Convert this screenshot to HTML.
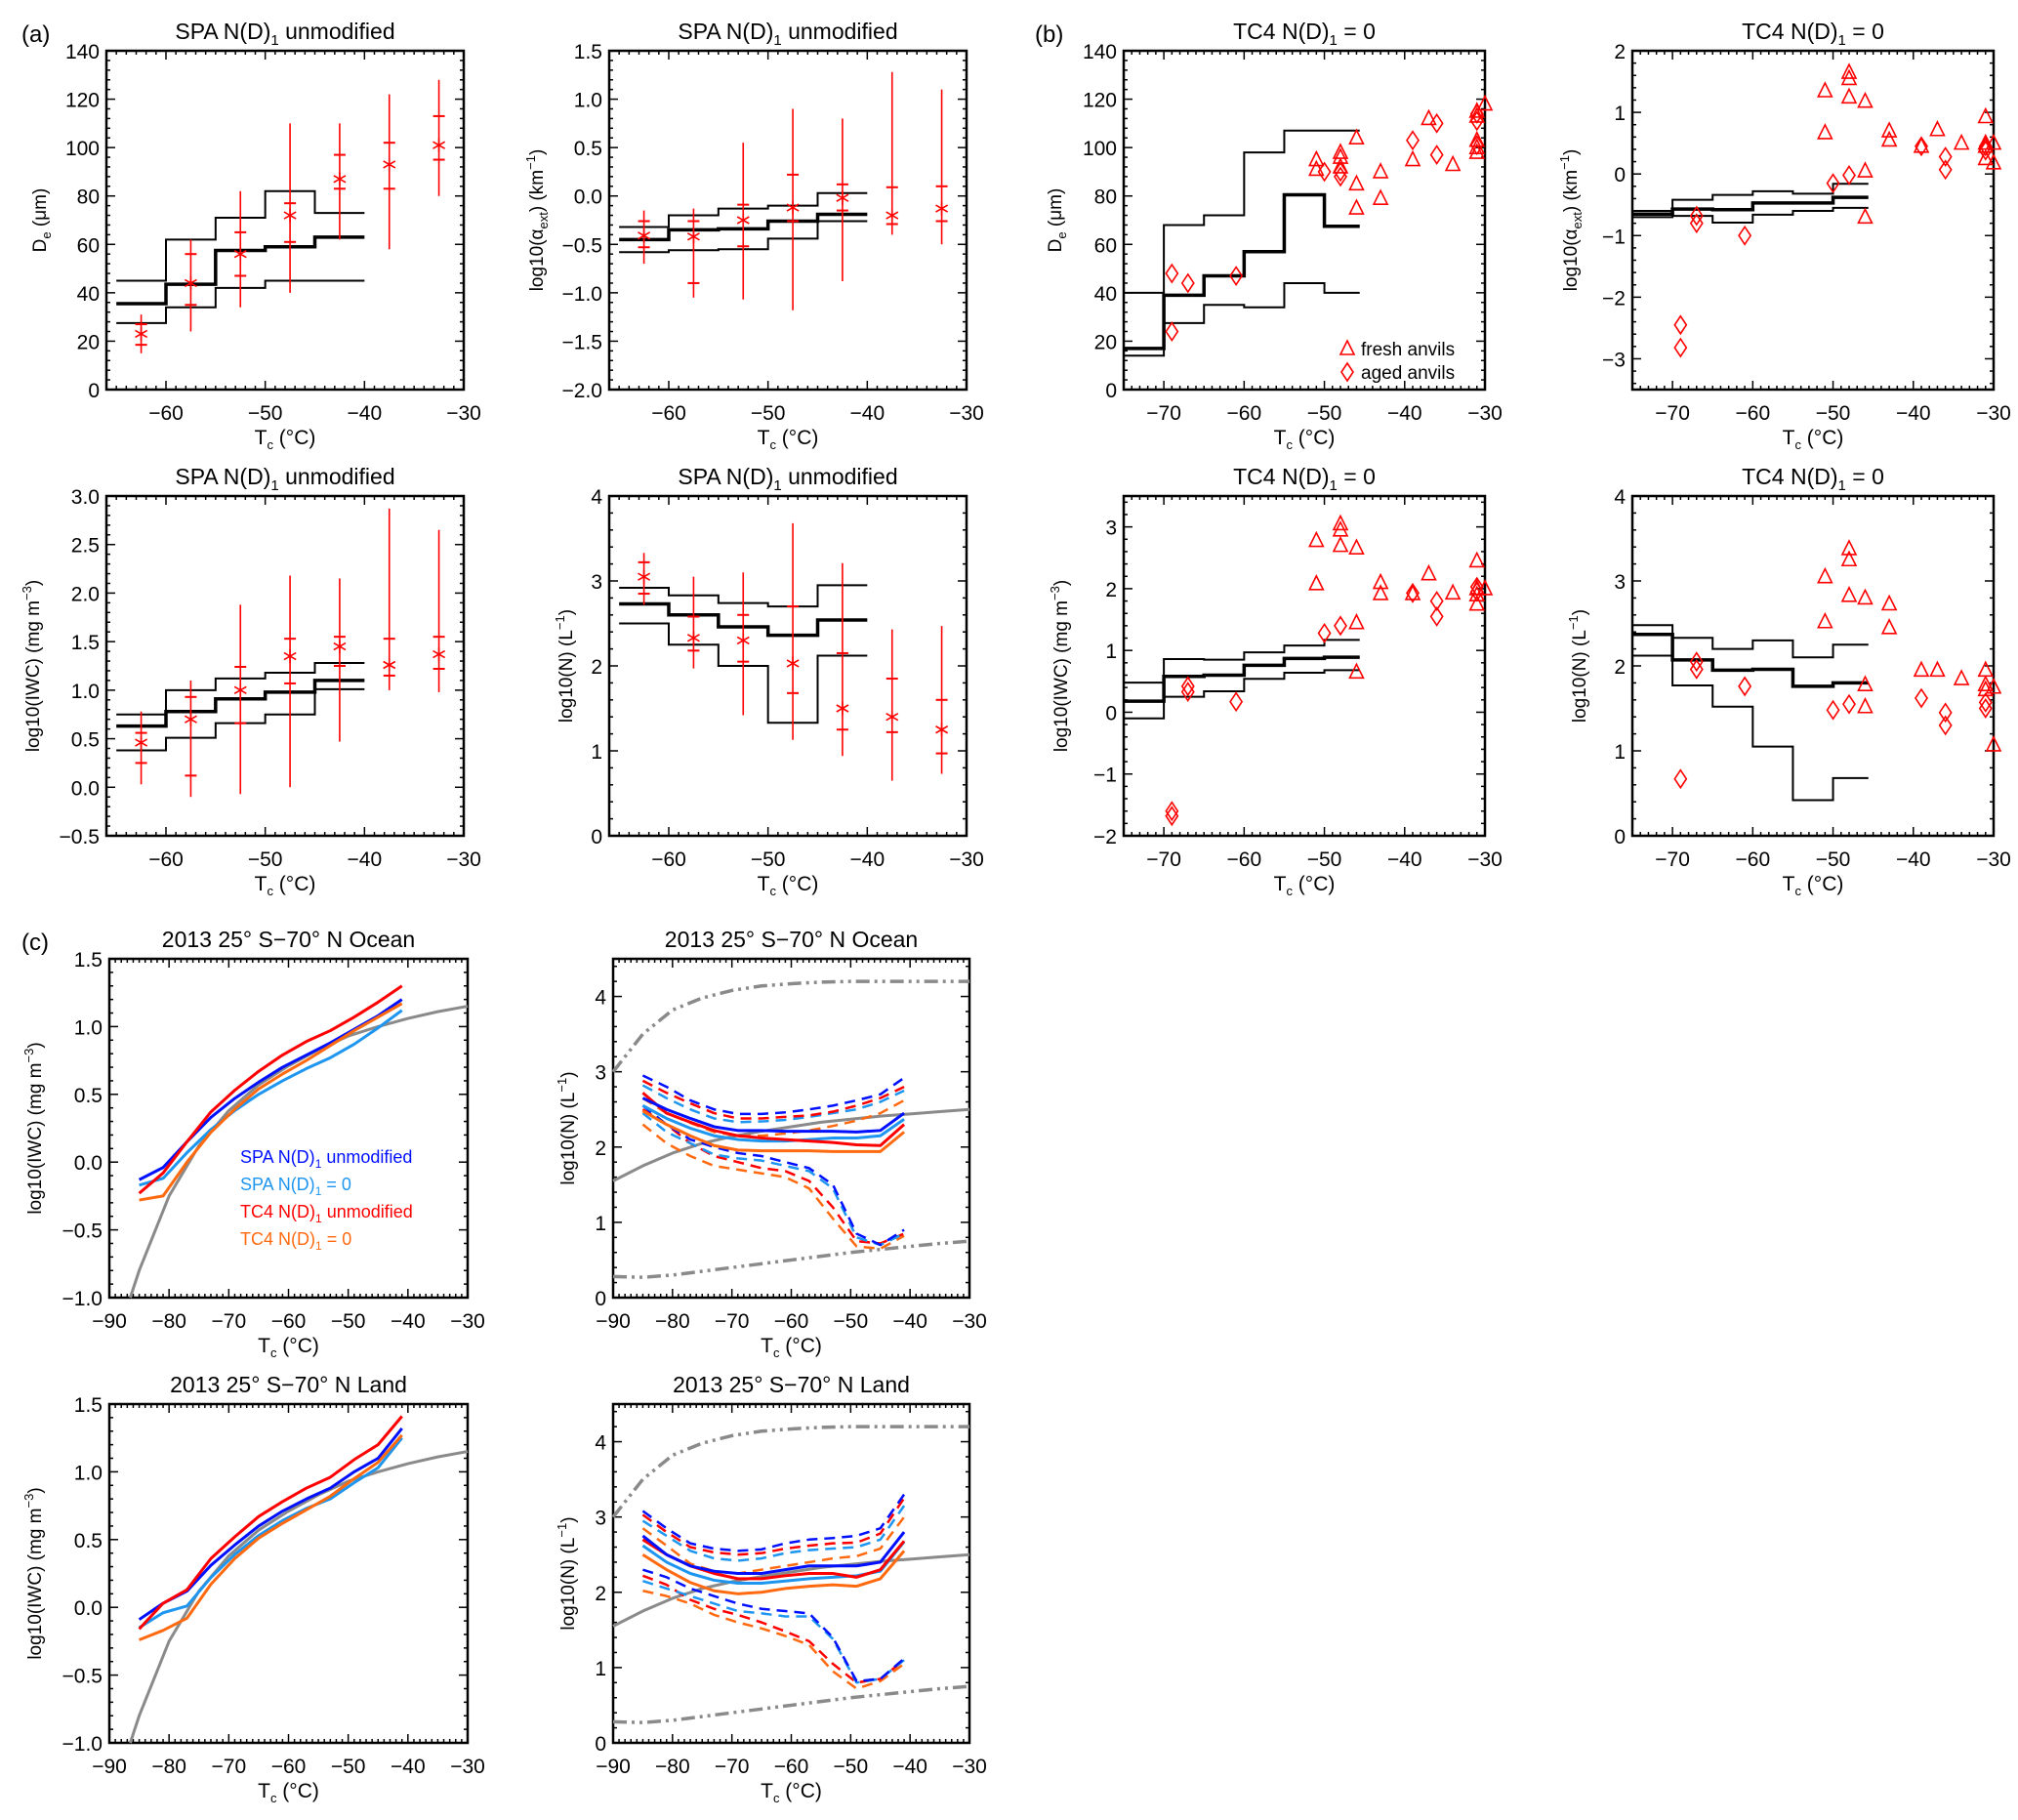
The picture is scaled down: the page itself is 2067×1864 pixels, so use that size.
<!DOCTYPE html>
<html><head><meta charset="utf-8"><title>Ice cloud panels</title>
<style>
html,body{margin:0;padding:0;background:#fff;}
svg{display:block;font-family:"Liberation Sans",sans-serif;}
</style></head>
<body>
<svg id="fig" width="2067" height="1864" viewBox="0 0 2067 1864" xmlns="http://www.w3.org/2000/svg">
<rect x="0" y="0" width="2067" height="1864" fill="#fff"/>
<text x="22" y="43" font-size="24">(a)</text>
<text x="1060" y="43" font-size="24">(b)</text>
<text x="22" y="973" font-size="24">(c)</text>
</svg>
<script>
// ---------- data: panel (a) SPA ----------
const binEdgesA = [-65,-60,-55,-50,-45,-40];
const a1Upper = [45,62,71,82,73];
const a1Median = [35.5,43.5,57.5,59,63];
const a1Lower = [27.5,34,42,45,45];
const obsTempA = [-62.5,-57.5,-52.5,-47.5,-42.5,-37.5,-32.5];
const a1Obs = [23,44,56,72,87,93,101];
const a1Min = [15,24,34,40,62,58,80];
const a1Max = [31,62,82,110,110,122,128];
const a1P25 = [18.5,35,47,61,83,83,95];
const a1P75 = [27,56,65,77,97,102,113];

const a2Upper = [-0.32,-0.2,-0.13,-0.1,0.03];
const a2Median = [-0.45,-0.35,-0.34,-0.26,-0.19];
const a2Lower = [-0.58,-0.56,-0.55,-0.44,-0.26];
const a2Obs = [-0.41,-0.42,-0.25,-0.12,-0.02,-0.2,-0.13];
const a2Min = [-0.7,-1.05,-1.07,-1.18,-0.88,-0.4,-0.5];
const a2Max = [-0.15,-0.13,0.55,0.9,0.8,1.28,1.1];
const a2P25 = [-0.53,-0.9,-0.52,-0.26,-0.15,-0.29,-0.26];
const a2P75 = [-0.26,-0.26,-0.09,0.22,0.12,0.09,0.1];

const a3Upper = [0.75,1.0,1.12,1.18,1.28];
const a3Median = [0.63,0.78,0.91,0.98,1.1];
const a3Lower = [0.38,0.51,0.66,0.75,1.01];
const a3Obs = [0.46,0.7,1.0,1.35,1.45,1.26,1.37];
const a3Min = [0.03,-0.1,-0.07,0,0.47,1.0,0.98];
const a3Max = [0.78,1.1,1.88,2.18,2.15,2.87,2.65];
const a3P25 = [0.25,0.12,0.66,1.07,1.25,1.15,1.22];
const a3P75 = [0.56,0.93,1.24,1.53,1.55,1.53,1.55];

const a4Upper = [2.92,2.83,2.74,2.7,2.95];
const a4Median = [2.73,2.6,2.46,2.36,2.54];
const a4Lower = [2.5,2.25,2.0,1.33,2.12];
const a4Obs = [3.05,2.33,2.3,2.03,1.5,1.4,1.25];
const a4Min = [2.72,1.97,1.42,1.13,0.94,0.65,0.73];
const a4Max = [3.33,3.05,3.1,3.68,3.21,2.43,2.47];
const a4P25 = [2.85,2.18,2.05,1.68,1.25,1.22,0.97];
const a4P75 = [3.22,2.58,2.6,2.7,2.15,1.85,1.6];

// ---------- data: panel (b) TC4 ----------
const binEdgesB = [-75,-70,-65,-60,-55,-50,-45.6];
const b1Upper = [40,68,72,98,107,107];
const b1Median = [17,39,47,57,80.5,67.5];
const b1Lower = [14,27.5,35,34,44,40];
const b1FreshT = [-51,-51,-48,-48,-48,-46,-46,-46,-43,-43,-39,-37,-34,-31,-31,-31,-31,-31,-30];
const b1FreshV = [95,91,98,96,92,104,85,75,90,79,95,112,93,115,113,103,100,98,118];
const b1AgedT = [-69,-69,-67,-61,-50,-48,-48,-39,-36,-36,-31,-31,-31];
const b1AgedV = [48,24,44,47,90,90,88,103,110,97,111,114,101];

const b2Upper = [-0.6,-0.42,-0.34,-0.28,-0.32,-0.16];
const b2Median = [-0.65,-0.57,-0.58,-0.47,-0.47,-0.38];
const b2Lower = [-0.7,-0.68,-0.79,-0.66,-0.6,-0.55];
const b2FreshT = [-51,-51,-48,-48,-48,-46,-46,-46,-43,-43,-39,-37,-34,-31,-31,-31,-31,-30,-30];
const b2FreshV = [1.35,0.67,1.65,1.55,1.25,1.18,0.05,-0.7,0.7,0.55,0.45,0.72,0.5,0.93,0.5,0.45,0.25,0.5,0.18];
const b2AgedT = [-69,-69,-67,-67,-61,-50,-48,-39,-36,-36,-31,-31];
const b2AgedV = [-2.45,-2.82,-0.68,-0.8,-1.0,-0.15,-0.02,0.45,0.28,0.07,0.45,0.38];

const b3Upper = [0.48,0.86,0.85,0.97,1.08,1.17];
const b3Median = [0.18,0.58,0.6,0.76,0.87,0.89];
const b3Lower = [-0.1,0.25,0.34,0.54,0.64,0.68];
const b3FreshT = [-51,-51,-48,-48,-48,-46,-46,-46,-43,-43,-39,-37,-34,-31,-31,-31,-31,-30];
const b3FreshV = [2.78,2.08,3.05,2.95,2.7,2.66,1.45,0.65,2.1,1.92,1.92,2.24,1.93,2.45,2.0,1.9,1.75,2.0];
const b3AgedT = [-69,-69,-67,-67,-61,-50,-48,-39,-36,-36,-31,-31];
const b3AgedV = [-1.6,-1.68,0.42,0.33,0.17,1.28,1.4,1.93,1.8,1.55,2.03,1.95];

const b4Upper = [2.48,2.33,2.2,2.3,2.1,2.25];
const b4Median = [2.37,2.07,1.95,1.96,1.76,1.8];
const b4Lower = [2.12,1.77,1.52,1.05,0.42,0.68];
const b4FreshT = [-51,-51,-48,-48,-48,-46,-46,-46,-43,-43,-39,-37,-34,-31,-31,-31,-30,-30];
const b4FreshV = [3.05,2.52,3.38,3.25,2.83,2.8,1.78,1.52,2.73,2.45,1.95,1.95,1.85,1.95,1.78,1.72,1.75,1.07];
const b4AgedT = [-69,-67,-67,-61,-50,-48,-39,-36,-36,-31,-31];
const b4AgedV = [0.67,2.05,1.96,1.76,1.48,1.55,1.62,1.45,1.3,1.57,1.5];

// ---------- data: panel (c) 2013 model ----------
const modelTemps = [-85,-81,-77,-73,-69,-65,-61,-57,-53,-49,-45,-41];
const refTempIwc = [-86.5,-85,-80,-75,-70,-65,-60,-55,-50,-45,-40,-35,-30];
const refIwc = [-1,-0.8,-0.25,0.12,0.38,0.57,0.71,0.83,0.93,1.0,1.06,1.11,1.15];
const refTempN = [-90,-85,-80,-75,-70,-65,-60,-55,-50,-45,-40,-35,-30];
const refNMid = [1.55,1.75,1.92,2.05,2.14,2.21,2.27,2.33,2.37,2.41,2.44,2.47,2.5];
const refNHigh = [3.0,3.5,3.82,3.98,4.08,4.14,4.17,4.19,4.2,4.2,4.2,4.2,4.2];
const refNLow = [0.28,0.27,0.3,0.35,0.4,0.45,0.5,0.55,0.6,0.64,0.68,0.72,0.75];

const oceanIwcSpa = [-0.13,-0.04,0.15,0.33,0.47,0.59,0.7,0.79,0.88,0.98,1.08,1.2];
const oceanIwcSpa0 = [-0.17,-0.12,0.07,0.24,0.38,0.5,0.6,0.69,0.77,0.87,0.99,1.12];
const oceanIwcTc4 = [-0.23,-0.08,0.15,0.37,0.53,0.67,0.79,0.89,0.97,1.07,1.18,1.3];
const oceanIwcTc40 = [-0.28,-0.25,0.0,0.22,0.39,0.54,0.65,0.75,0.86,0.97,1.07,1.17];

const oceanNSpa = [2.65,2.5,2.38,2.27,2.22,2.22,2.21,2.21,2.21,2.2,2.22,2.45];
const oceanNSpa0 = [2.55,2.38,2.25,2.15,2.1,2.08,2.08,2.1,2.12,2.12,2.15,2.37];
const oceanNTc4 = [2.72,2.45,2.33,2.22,2.15,2.12,2.1,2.08,2.06,2.03,2.02,2.3];
const oceanNTc40 = [2.48,2.3,2.15,2.02,1.96,1.95,1.95,1.95,1.94,1.94,1.94,2.2];
const oceanNSpaHi = [2.95,2.8,2.62,2.5,2.44,2.44,2.46,2.5,2.55,2.62,2.7,2.92];
const oceanNTc4Hi = [2.88,2.72,2.58,2.45,2.38,2.38,2.4,2.42,2.47,2.55,2.65,2.8];
const oceanNSpa0Hi = [2.82,2.65,2.5,2.38,2.33,2.34,2.36,2.4,2.45,2.5,2.6,2.75];
const oceanNTc40Hi = [2.65,2.45,2.32,2.2,2.15,2.15,2.18,2.22,2.28,2.35,2.45,2.62];
const oceanNSpaLo = [2.55,2.3,2.1,2.0,1.92,1.88,1.8,1.72,1.5,0.85,0.7,0.9];
const oceanNSpa0Lo = [2.45,2.2,2.05,1.9,1.85,1.82,1.75,1.68,1.45,0.8,0.7,0.85];
const oceanNTc4Lo = [2.5,2.3,2.05,1.88,1.8,1.72,1.68,1.55,1.2,0.75,0.72,0.85];
const oceanNTc40Lo = [2.3,2.05,1.88,1.75,1.7,1.65,1.6,1.45,1.05,0.68,0.65,0.82];

const landIwcSpa = [-0.09,0.03,0.12,0.31,0.46,0.6,0.71,0.8,0.88,1.0,1.1,1.32];
const landIwcSpa0 = [-0.15,-0.04,0.01,0.22,0.39,0.53,0.64,0.73,0.8,0.92,1.03,1.25];
const landIwcTc4 = [-0.16,0.03,0.13,0.36,0.52,0.67,0.78,0.88,0.96,1.09,1.2,1.41];
const landIwcTc40 = [-0.24,-0.17,-0.08,0.17,0.36,0.51,0.62,0.72,0.82,0.95,1.07,1.27];

const landNSpa = [2.75,2.5,2.35,2.28,2.25,2.25,2.3,2.35,2.35,2.35,2.4,2.8];
const landNSpa0 = [2.62,2.4,2.25,2.16,2.12,2.12,2.15,2.18,2.2,2.22,2.28,2.67];
const landNTc4 = [2.7,2.5,2.35,2.25,2.18,2.18,2.22,2.25,2.25,2.2,2.3,2.68];
const landNTc40 = [2.5,2.3,2.13,2.02,1.98,2.0,2.05,2.08,2.1,2.08,2.18,2.55];
const landNSpaHi = [3.08,2.85,2.65,2.58,2.55,2.57,2.65,2.7,2.72,2.75,2.85,3.3];
const landNTc4Hi = [3.03,2.8,2.6,2.53,2.5,2.52,2.58,2.62,2.65,2.66,2.78,3.25];
const landNSpa0Hi = [2.95,2.75,2.55,2.45,2.42,2.45,2.52,2.56,2.58,2.6,2.7,3.15];
const landNTc40Hi = [2.85,2.62,2.38,2.28,2.25,2.3,2.35,2.4,2.45,2.48,2.58,3.0];
const landNSpaLo = [2.3,2.2,2.05,1.95,1.85,1.78,1.75,1.72,1.4,0.82,0.85,1.12];
const landNSpa0Lo = [2.15,2.05,1.95,1.85,1.75,1.72,1.68,1.68,1.38,0.8,0.85,1.1];
const landNTc4Lo = [2.22,2.1,1.9,1.78,1.7,1.6,1.48,1.35,1.05,0.8,0.85,1.1];
const landNTc40Lo = [2.02,1.95,1.85,1.7,1.6,1.52,1.42,1.3,0.95,0.72,0.82,1.05];

const xTicksA = [-60,-50,-40,-30];
const xTicksB = [-70,-60,-50,-40,-30];
const xTicksC = [-90,-80,-70,-60,-50,-40,-30];

// ---------- drawing ----------
const NS = "http://www.w3.org/2000/svg";
const svg = document.getElementById("fig");
const C_BLUE = "#0010ff", C_LBLUE = "#1e96f0", C_RED = "#ff0000", C_ORANGE = "#ff6a10", C_GRAY = "#8a8a8a";

function mk(tag, attrs, parent) {
  const e = document.createElementNS(NS, tag);
  for (const k in attrs) e.setAttribute(k, attrs[k]);
  (parent || svg).appendChild(e);
  return e;
}
function fmtNum(v, dec) {
  const s = Math.abs(v).toFixed(dec);
  return (v < -1e-9 ? "\u2212" : "") + s;
}

function makeAxes(p) {
  const g = mk("g", {});
  
  
  const sx = x => p.L + (x - p.xmin) / (p.xmax - p.xmin) * (p.R - p.L);
  const sy = y => p.B - (y - p.ymin) / (p.ymax - p.ymin) * (p.B - p.T);
  const t = mk("text", {x: (p.L + p.R) / 2, y: p.T - 12, "font-size": 23, "text-anchor": "middle"}, g);
  
  
  t.appendChild(document.createTextNode(p.titleA));
  const sub = mk("tspan", {"font-size": 15, dy: 6}, t); sub.textContent = "1";
  const rest = mk("tspan", {dy: -6}, t); rest.textContent = p.titleB;
  const box = mk("rect", {x: p.L, y: p.T, width: p.R - p.L, height: p.B - p.T, fill: "none", stroke: "#000", "stroke-width": 2.5}, g);
  
  
  for (let v = Math.ceil(p.xmin); v <= p.xmax; v += 1) {
    const major = (v % 10 === 0);
    const len = major ? 9 : 4;
    mk("line", {x1: sx(v), x2: sx(v), y1: p.B, y2: p.B - len, stroke: "#000", "stroke-width": 1.5}, g);
    mk("line", {x1: sx(v), x2: sx(v), y1: p.T, y2: p.T + len, stroke: "#000", "stroke-width": 1.5}, g);
  }
  p.xticks.forEach(v => {
    const tl = mk("text", {x: sx(v), y: p.B + 31, "font-size": 21, "text-anchor": "middle"}, g);
    
    
    tl.textContent = fmtNum(v, 0);
  });
  const minorStep = p.ystep / 5;
  for (let k = 0; ; k++) {
    const v = p.yfirst - Math.floor((p.yfirst - p.ymin) / minorStep + 1e-9) * minorStep + k * minorStep;
    if (v > p.ymax + 1e-9) break;
    if (v < p.ymin - 1e-9) continue;
    const major = Math.abs(((v - p.yfirst) / p.ystep) - Math.round((v - p.yfirst) / p.ystep)) < 1e-6;
    const len = major ? 9 : 4;
    mk("line", {x1: p.L, x2: p.L + len, y1: sy(v), y2: sy(v), stroke: "#000", "stroke-width": 1.5}, g);
    mk("line", {x1: p.R, x2: p.R - len, y1: sy(v), y2: sy(v), stroke: "#000", "stroke-width": 1.5}, g);
    if (major) {
      const yl = mk("text", {x: p.L - 7, y: sy(v) + 8, "font-size": 21, "text-anchor": "end"}, g);
      
      
      yl.textContent = fmtNum(v, p.ydec);
    }
  }
  const xl = mk("text", {x: (p.L + p.R) / 2, y: p.B + 56, "font-size": 21, "text-anchor": "middle"}, g);
  
  
  xl.appendChild(document.createTextNode("T"));
  const s1 = mk("tspan", {"font-size": 13, dy: 5}, xl); s1.textContent = "c";
  const s2 = mk("tspan", {dy: -5}, xl); s2.textContent = " (\u00B0C)";
  const cy = (p.T + p.B) / 2;
  const ylab = mk("text", {x: p.ylabX, y: cy, "font-size": 19, "text-anchor": "middle", transform: `rotate(-90 ${p.ylabX} ${cy})`}, g);
  
  
  p.ylab.forEach(part => {
    const ts = mk("tspan", part.dy ? {dy: part.dy, "font-size": part.fs || 19} : {"font-size": part.fs || 19}, ylab);
    ts.textContent = part.t;
  });
  return {g, sx, sy};
}

function stepLine(ax, edges, vals, width, name) {
  let d = `M${ax.sx(edges[0])},${ax.sy(vals[0])}`;
  for (let i = 0; i < vals.length; i++) {
    d += ` L${ax.sx(edges[i])},${ax.sy(vals[i])} L${ax.sx(edges[i + 1])},${ax.sy(vals[i])}`;
  }
  const e = mk("path", {d, fill: "none", stroke: "#000", "stroke-width": width}, ax.g);
  
  
}
function errBars(ax, xs, obs, mn, mx, p25, p75) {
  xs.forEach((x, i) => {
    const X = ax.sx(x);
    const g = mk("g", {stroke: C_RED, "stroke-width": 1.6, fill: "none"}, ax.g);
    
    
    mk("line", {x1: X, x2: X, y1: ax.sy(mn[i]), y2: ax.sy(mx[i])}, g);
    mk("line", {x1: X - 6, x2: X + 6, y1: ax.sy(p25[i]), y2: ax.sy(p25[i]), "stroke-width": 2}, g);
    mk("line", {x1: X - 6, x2: X + 6, y1: ax.sy(p75[i]), y2: ax.sy(p75[i]), "stroke-width": 2}, g);
    const Y = ax.sy(obs[i]), r = 7;
    mk("line", {x1: X, x2: X, y1: Y - r, y2: Y + r}, g);
    mk("line", {x1: X - r * 0.87, x2: X + r * 0.87, y1: Y - r * 0.5, y2: Y + r * 0.5}, g);
    mk("line", {x1: X - r * 0.87, x2: X + r * 0.87, y1: Y + r * 0.5, y2: Y - r * 0.5}, g);
  });
}
function triangle(parent, X, Y) {
  return mk("path", {d: `M${X},${Y - 8} L${X + 7},${Y + 6} L${X - 7},${Y + 6} Z`, fill: "none", stroke: C_RED, "stroke-width": 1.6}, parent);
}
function diamond(parent, X, Y) {
  return mk("path", {d: `M${X},${Y - 9} L${X + 6},${Y} L${X},${Y + 9} L${X - 6},${Y} Z`, fill: "none", stroke: C_RED, "stroke-width": 1.6}, parent);
}
function scatter(ax, ft, fv, at, av) {
  ft.forEach((t, i) => {
    const m = triangle(ax.g, ax.sx(t), ax.sy(fv[i]));
    
    
  });
  at.forEach((t, i) => {
    const m = diamond(ax.g, ax.sx(t), ax.sy(av[i]));
    
    
  });
}
function polyline(ax, xs, ys, color, width, dash, name) {
  const pts = xs.map((x, i) => `${ax.sx(x)},${ax.sy(ys[i])}`).join(" ");
  const attrs = {points: pts, fill: "none", stroke: color, "stroke-width": width, "stroke-linejoin": "round"};
  if (dash) attrs["stroke-dasharray"] = dash;
  const e = mk("polyline", attrs, ax.g);
  
  
}

const LAB_DE = [{t: "D"}, {t: "e", fs: 13, dy: 5}, {t: "  (\u03BCm)", dy: -5}];
const LAB_EXT = [{t: "log10(\u03B1"}, {t: "ext", fs: 13, dy: 5}, {t: ")  (km", dy: -5}, {t: "\u22121", fs: 13, dy: -8}, {t: ")", dy: 8}];
const LAB_IWC = [{t: "log10(IWC)  (mg m"}, {t: "\u22123", fs: 13, dy: -8}, {t: ")", dy: 8}];
const LAB_N = [{t: "log10(N)  (L"}, {t: "\u22121", fs: 13, dy: -8}, {t: ")", dy: 8}];

const rowA1 = {T: 52, B: 399}, rowA2 = {T: 508, B: 856};
const rowC1 = {T: 982, B: 1329}, rowC2 = {T: 1438, B: 1785};
const colA1 = {L: 109, R: 475}, colA2 = {L: 624, R: 990};
const colB1 = {L: 1151, R: 1521}, colB2 = {L: 1672, R: 2042};
const colC1 = {L: 112, R: 479}, colC2 = {L: 628, R: 993};

function spaPanel(name, col, row, ymin, ymax, yfirst, ystep, ydec, ylab, ylabX, up, med, lo, obs, mn, mx, p25, p75) {
  const ax = makeAxes(Object.assign({name, xmin: -66, xmax: -30, xticks: xTicksA, ymin, ymax, yfirst, ystep, ydec, ylab, ylabX,
    titleA: "SPA N(D)", titleB: " unmodified"}, col, row));
  stepLine(ax, binEdgesA, up, 2, 'upper-quartile-step');
  stepLine(ax, binEdgesA, med, 3.5, 'median-step');
  stepLine(ax, binEdgesA, lo, 2, 'lower-quartile-step');
  errBars(ax, obsTempA, obs, mn, mx, p25, p75);
  return ax;
}
spaPanel('panel-a-de', colA1, rowA1, 0, 140, 0, 20, 0, LAB_DE, 47, a1Upper, a1Median, a1Lower, a1Obs, a1Min, a1Max, a1P25, a1P75);
spaPanel('panel-a-ext', colA2, rowA1, -2, 1.5, -2, 0.5, 1, LAB_EXT, 556, a2Upper, a2Median, a2Lower, a2Obs, a2Min, a2Max, a2P25, a2P75);
spaPanel('panel-a-iwc', colA1, rowA2, -0.5, 3.0, -0.5, 0.5, 1, LAB_IWC, 40, a3Upper, a3Median, a3Lower, a3Obs, a3Min, a3Max, a3P25, a3P75);
spaPanel('panel-a-n', colA2, rowA2, 0, 4, 0, 1, 0, LAB_N, 586, a4Upper, a4Median, a4Lower, a4Obs, a4Min, a4Max, a4P25, a4P75);

function tc4Panel(name, col, row, ymin, ymax, yfirst, ystep, ylab, ylabX, up, med, lo, ft, fv, at, av) {
  const ax = makeAxes(Object.assign({name, xmin: -75, xmax: -30, xticks: xTicksB, ymin, ymax, yfirst, ystep, ydec: 0, ylab, ylabX,
    titleA: "TC4 N(D)", titleB: " = 0"}, col, row));
  stepLine(ax, binEdgesB, up, 2, 'upper-quartile-step');
  stepLine(ax, binEdgesB, med, 3.5, 'median-step');
  stepLine(ax, binEdgesB, lo, 2, 'lower-quartile-step');
  scatter(ax, ft, fv, at, av);
  return ax;
}
tc4Panel('panel-b-de', colB1, rowA1, 0, 140, 0, 20, LAB_DE, 1087, b1Upper, b1Median, b1Lower, b1FreshT, b1FreshV, b1AgedT, b1AgedV);
tc4Panel('panel-b-ext', colB2, rowA1, -3.5, 2, -3, 1, LAB_EXT, 1615, b2Upper, b2Median, b2Lower, b2FreshT, b2FreshV, b2AgedT, b2AgedV);
tc4Panel('panel-b-iwc', colB1, rowA2, -2, 3.5, -2, 1, LAB_IWC, 1093, b3Upper, b3Median, b3Lower, b3FreshT, b3FreshV, b3AgedT, b3AgedV);
tc4Panel('panel-b-n', colB2, rowA2, 0, 4, 0, 1, LAB_N, 1624, b4Upper, b4Median, b4Lower, b4FreshT, b4FreshV, b4AgedT, b4AgedV);

{
  const lg = mk("g", {});
  
  
  triangle(lg, 1380, 357);
  diamond(lg, 1380, 381);
  const t1 = mk("text", {x: 1394, y: 364, "font-size": 19}, lg); t1.textContent = "fresh anvils";
  const t2 = mk("text", {x: 1394, y: 388, "font-size": 19}, lg); t2.textContent = "aged anvils";
}

function iwcPanel(name, row, title, spa, spa0, tc4, tc40) {
  const ax = makeAxes(Object.assign({name, xmin: -90, xmax: -30, xticks: xTicksC, ymin: -1, ymax: 1.5, yfirst: -1, ystep: 0.5, ydec: 1,
    ylab: LAB_IWC, ylabX: 42, titleA: title, titleB: ""}, colC1, row));
  const tt = ax.g.querySelector('text');
  tt.textContent = title;
  polyline(ax, refTempIwc, refIwc, C_GRAY, 3, null, 'reference-iwc-curve');
  polyline(ax, modelTemps, spa, C_BLUE, 3, null, 'spa-unmodified-line');
  polyline(ax, modelTemps, spa0, C_LBLUE, 3, null, 'spa-zero-line');
  polyline(ax, modelTemps, tc4, C_RED, 3, null, 'tc4-unmodified-line');
  polyline(ax, modelTemps, tc40, C_ORANGE, 3, null, 'tc4-zero-line');
  return ax;
}
function nPanel(name, row, title, s, s0, t, t0, sh, th, s0h, t0h, sl, s0l, tl, t0l) {
  const ax = makeAxes(Object.assign({name, xmin: -90, xmax: -30, xticks: xTicksC, ymin: 0, ymax: 4.5, yfirst: 0, ystep: 1, ydec: 0,
    ylab: LAB_N, ylabX: 588, titleA: title, titleB: ""}, colC2, row));
  const tt = ax.g.querySelector('text');
  tt.textContent = title;
  const DD = "14,5,3,5,3,5";
  polyline(ax, refTempN, refNHigh, C_GRAY, 3.5, DD, 'reference-n-upper');
  polyline(ax, refTempN, refNLow, C_GRAY, 3.5, DD, 'reference-n-lower');
  polyline(ax, refTempN, refNMid, C_GRAY, 3, null, 'reference-n-curve');
  const DS = "11,7";
  polyline(ax, modelTemps, t0h, C_ORANGE, 2.5, DS, 'tc4-zero-upper-dashed');
  polyline(ax, modelTemps, s0h, C_LBLUE, 2.5, DS, 'spa-zero-upper-dashed');
  polyline(ax, modelTemps, th, C_RED, 2.5, DS, 'tc4-unmodified-upper-dashed');
  polyline(ax, modelTemps, sh, C_BLUE, 2.5, DS, 'spa-unmodified-upper-dashed');
  polyline(ax, modelTemps, t0l, C_ORANGE, 2.5, DS, 'tc4-zero-lower-dashed');
  polyline(ax, modelTemps, tl, C_RED, 2.5, DS, 'tc4-unmodified-lower-dashed');
  polyline(ax, modelTemps, s0l, C_LBLUE, 2.5, DS, 'spa-zero-lower-dashed');
  polyline(ax, modelTemps, sl, C_BLUE, 2.5, DS, 'spa-unmodified-lower-dashed');
  polyline(ax, modelTemps, t0, C_ORANGE, 3, null, 'tc4-zero-line');
  polyline(ax, modelTemps, s0, C_LBLUE, 3, null, 'spa-zero-line');
  polyline(ax, modelTemps, t, C_RED, 3, null, 'tc4-unmodified-line');
  polyline(ax, modelTemps, s, C_BLUE, 3, null, 'spa-unmodified-line');
  return ax;
}
iwcPanel('panel-c-ocean-iwc', rowC1, "2013 25\u00B0 S\u221270\u00B0 N Ocean", oceanIwcSpa, oceanIwcSpa0, oceanIwcTc4, oceanIwcTc40);
nPanel('panel-c-ocean-n', rowC1, "2013 25\u00B0 S\u221270\u00B0 N Ocean", oceanNSpa, oceanNSpa0, oceanNTc4, oceanNTc40,
  oceanNSpaHi, oceanNTc4Hi, oceanNSpa0Hi, oceanNTc40Hi, oceanNSpaLo, oceanNSpa0Lo, oceanNTc4Lo, oceanNTc40Lo);
iwcPanel('panel-c-land-iwc', rowC2, "2013 25\u00B0 S\u221270\u00B0 N Land", landIwcSpa, landIwcSpa0, landIwcTc4, landIwcTc40);
nPanel('panel-c-land-n', rowC2, "2013 25\u00B0 S\u221270\u00B0 N Land", landNSpa, landNSpa0, landNTc4, landNTc40,
  landNSpaHi, landNTc4Hi, landNSpa0Hi, landNTc40Hi, landNSpaLo, landNSpa0Lo, landNTc4Lo, landNTc40Lo);

{
  const lg = mk("g", {});
  
  
  const items = [["SPA N(D)", " unmodified", C_BLUE], ["SPA N(D)", " = 0", C_LBLUE], ["TC4 N(D)", " unmodified", C_RED], ["TC4 N(D)", " = 0", C_ORANGE]];
  items.forEach((it, i) => {
    const t = mk("text", {x: 246, y: 1191 + i * 28, "font-size": 18, fill: it[2]}, lg);
    
    
    t.appendChild(document.createTextNode(it[0]));
    const s = mk("tspan", {"font-size": 12, dy: 5}, t); s.textContent = "1";
    const r = mk("tspan", {dy: -5}, t); r.textContent = it[1];
  });
}
</script>
</body></html>
